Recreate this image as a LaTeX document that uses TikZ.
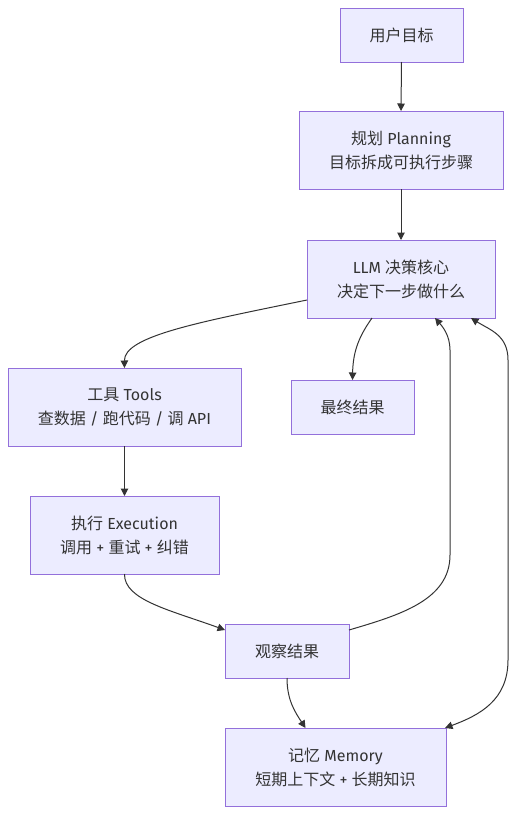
\documentclass[tikz,border=0pt]{standalone}
\usepackage{fontspec}
\setmainfont{Fira Sans}
\newfontfamily\cjk{Noto Sans CJK SC}
\usetikzlibrary{arrows.meta}
\definecolor{nodefill}{HTML}{ECECFF}
\definecolor{nodeline}{HTML}{9370DB}
\definecolor{txt}{HTML}{333333}
\definecolor{edge}{HTML}{333333}
\tikzset{
  box/.style={draw=nodeline, fill=nodefill, line width=1pt, rectangle, inner sep=0pt, outer sep=0pt,
    align=center, text=txt, font=\fontsize{16pt}{24pt}\selectfont},
  link/.style={draw=edge, line width=1pt, -{Triangle[length=7.5pt,width=7.5pt]}},
  biglink/.style={draw=edge, line width=1pt, {Triangle[length=7.5pt,width=7.5pt]}-{Triangle[length=7.5pt,width=7.5pt]}}
}
\begin{document}
\begin{tikzpicture}[x=1pt,y=-1pt]
\useasboundingbox[fill=white] (0,0) rectangle (517,814);
\node[box, minimum width=123pt, minimum height=54pt] (goal) at (401.5,35) {{\cjk 用户目标}};
\node[box, minimum width=204pt, minimum height=78pt] (plan) at (401,150) {{\cjk 规划} Planning\\{\cjk 目标拆成可执行步骤}};
\node[box, minimum width=188pt, minimum height=78pt] (llm) at (401,279) {LLM {\cjk 决策核心}\\{\cjk 决定下一步做什么}};
\node[box, minimum width=233pt, minimum height=78pt] (tools) at (124.5,407) {{\cjk 工具} Tools\\{\cjk 查数据} / {\cjk 跑代码} / {\cjk 调} API};
\node[box, minimum width=123pt, minimum height=54pt] (final) at (352.5,407) {{\cjk 最终结果}};
\node[box, minimum width=189pt, minimum height=78pt] (exec) at (124.5,535) {{\cjk 执行} Execution\\{\cjk 调用} + {\cjk 重试} + {\cjk 纠错}};
\node[box, minimum width=124pt, minimum height=54pt] (obs) at (287,651) {{\cjk 观察结果}};
\node[box, minimum width=221pt, minimum height=78pt] (mem) at (335.5,767) {{\cjk 记忆} Memory\\{\cjk 短期上下文} + {\cjk 长期知识}};

\draw[link] (goal.south) -- (plan.north);
\draw[link] (plan.south) -- (llm.north);
\draw[link] ([yshift=-21pt]llm.west) .. controls (200,322) and (124,336) .. (tools.north);
\draw[link] ([xshift=-29pt]llm.south) .. controls (360,335) and (353,350) .. (final.north);
\draw[link] (tools.south) -- (exec.north);
\draw[link] (exec.south) .. controls (124,600) and (170,610) .. ([yshift=21pt]obs.west);
\draw[link] ([yshift=21pt]obs.east) .. controls (400,615) and (450,600) .. (450,555) -- (450,350) .. controls (450,335) and (442,326) .. ([xshift=34pt]llm.south);
\draw[link] (obs.south) .. controls (287,700) and (295,712) .. ([xshift=-30pt]mem.north);
\draw[biglink] ([xshift=70pt]llm.south) .. controls (490,330) and (508,335) .. (508,360) -- (508,660) .. controls (508,700) and (480,715) .. ([xshift=-1pt]mem.north east);
\end{tikzpicture}
\end{document}
